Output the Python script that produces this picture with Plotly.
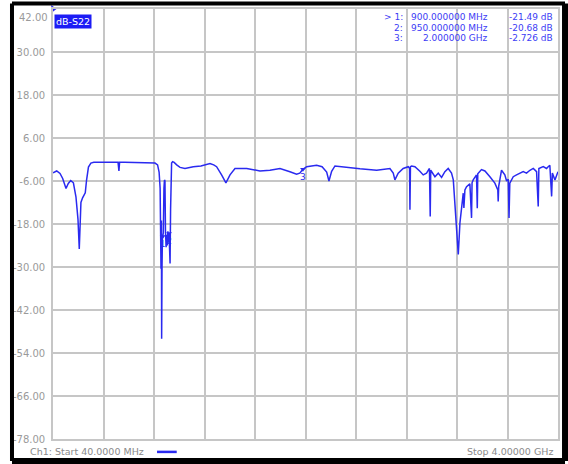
import plotly.graph_objects as go

# ---- data ----
freq_mhz = [40, 69, 95, 116, 142, 160, 179, 200, 220, 236, 246, 252, 259, 272, 293, 303, 318, 337,
            360, 450, 550, 557, 562, 600, 700, 800, 840, 860, 872, 880, 884, 887, 890, 892, 895, 898,
            900, 905, 910, 914, 918, 922, 927, 931, 936, 941, 946, 950, 954, 958, 962, 965, 970,
            978, 990, 1010, 1036, 1075, 1110, 1140, 1200, 1271, 1300, 1323, 1362, 1396, 1428, 1467,
            1559, 1663, 1741, 1820, 1898, 1950, 1975, 2000, 2029, 2107, 2150, 2186, 2204, 2225,
            2251, 2343, 2447, 2578, 2682, 2708, 2721, 2747, 2786, 2826, 2836, 2839, 2843, 2852,
            2878, 2917, 2943, 2969, 2992, 2998, 3002, 3035, 3061, 3087, 3113, 3139, 3152, 3165,
            3179, 3192, 3205, 3218, 3231, 3244, 3257, 3262, 3270, 3283, 3309, 3322, 3326, 3335,
            3361, 3367, 3371, 3400, 3427, 3466, 3505, 3528, 3531, 3535, 3544, 3557, 3583, 3597,
            3610, 3616, 3622, 3649, 3675, 3701, 3727, 3753, 3780, 3806, 3832, 3845, 3850, 3884,
            3910, 3923, 3936, 3950, 3956, 3976, 4000]
s22_db = [-3.7, -3.2, -3.9, -5.3, -8.1, -6.7, -5.9, -6.5, -10.4, -16.7, -25.0, -17.5, -12.0, -10.7,
          -9.3, -5.8, -2.1, -1.0, -0.8, -0.8, -0.8, -3.2, -0.8, -0.8, -0.8, -0.9, -1.0, -1.5, -3.5,
          -8.0, -18.0, -30.5, -17.0, -50.0, -30.0, -22.0, -21.49, -20.5, -8.0, -5.7, -6.0, -20.0,
          -24.5, -21.0, -24.0, -20.0, -23.0, -20.68, -25.0, -29.0, -14.0, -4.0, -1.0, -0.6, -0.8,
          -1.5, -2.2, -2.5, -2.2, -2.0, -1.8, -1.1, -1.5, -2.0, -4.3, -6.5, -4.3, -2.5, -2.5, -3.2,
          -3.0, -2.5, -3.4, -4.1, -3.8, -2.726, -2.0, -1.6, -2.0, -3.5, -6.0, -3.3, -1.8, -2.2,
          -2.6, -3.0, -2.5, -3.8, -5.7, -3.8, -2.5, -2.0, -2.5, -14.0, -2.0, -1.8, -2.0, -3.3,
          -4.3, -3.8, -2.5, -15.9, -3.0, -4.8, -3.8, -5.0, -3.4, -2.5, -3.0, -3.8, -5.7, -12.0,
          -20.5, -26.5, -17.7, -14.0, -9.4, -13.5, -8.5, -7.6, -6.8, -16.3, -6.5, -5.7, -4.3,
          -13.6, -4.0, -2.8, -3.2, -4.8, -6.6, -8.5, -11.7, -7.5, -5.7, -3.0, -4.3, -6.0, -5.5,
          -16.3, -6.6, -4.8, -4.3, -3.8, -3.4, -3.8, -3.0, -2.5, -3.4, -13.1, -2.5, -2.0, -2.5,
          -2.0, -1.6, -10.3, -3.8, -5.7, -3.4]

marker_ids = ["1", "2", "3"]
marker_freq = [900, 950, 2000]
marker_db = [-21.49, -20.68, -2.726]
marker_freq_text = ["900.000000 MHz", "950.000000 MHz", "2.000000 GHz"]
marker_val_text = ["-21.49 dB", "-20.68 dB", "-2.726 dB"]
marker_row_label = ["> 1:", "2:", "3:"]

y_ticks = [42, 30, 18, 6, -6, -18, -30, -42, -54, -66, -78]
y_tick_text = ["42.00", "30.00", "18.00", "6.00", "-6.00", "-18.00", "-30.00", "-42.00",
               "-54.00", "-66.00", "-78.00"]
f_start, f_stop = 40, 4000
x_ticks = [f_start + (f_stop - f_start) * k / 10 for k in range(11)]

trace_label = "dB-S22"
footer_left = "Ch1: Start 40.0000 MHz"
footer_right = "Stop 4.00000 GHz"

BLUE = "#2a2af0"
TBLUE = "#3c3cf5"
GRID = "#c6c6c6"
TXT = "#9a9a9a"
FONT = "DejaVu Sans, Verdana, sans-serif"

fig = go.Figure()
fig.add_trace(go.Scatter(x=freq_mhz, y=s22_db, mode="lines",
                         line=dict(color=BLUE, width=1.5), hoverinfo="skip"))
fig.add_trace(go.Scatter(x=marker_freq, y=marker_db, mode="markers+text",
                         marker=dict(symbol="triangle-down", size=5, color=BLUE),
                         text=marker_ids, textposition="bottom center",
                         textfont=dict(color=BLUE, size=9, family=FONT), hoverinfo="skip"))
# reference level marker
fig.add_trace(go.Scatter(x=[f_start], y=[y_ticks[0]], mode="markers",
                         marker=dict(symbol="triangle-right", size=7, color=BLUE),
                         cliponaxis=False, hoverinfo="skip"))

# top tick label is drawn inside the frame (shifted down), as on the instrument
tick_text_axis = [""] + y_tick_text[1:]

fig.update_layout(
    width=568, height=464,
    margin=dict(l=53, r=10, t=7, b=25),
    paper_bgcolor="white", plot_bgcolor="white",
    showlegend=False,
    font=dict(family=FONT, size=10, color=TXT),
    xaxis=dict(range=[f_start, f_stop], tickvals=x_ticks, showticklabels=False,
               showgrid=True, gridcolor=GRID, gridwidth=1.6, zeroline=False,
               showline=True, linecolor=GRID, linewidth=1.6, mirror=True, ticks=""),
    yaxis=dict(range=[y_ticks[-1], y_ticks[0]], tickvals=y_ticks, ticktext=tick_text_axis,
               showgrid=True, gridcolor=GRID, gridwidth=1.6, zeroline=False,
               showline=True, linecolor=GRID, linewidth=1.6, mirror=True, ticks="",
               tickfont=dict(size=10, color=TXT, family=FONT), ticklabelstandoff=4),
)

fig.add_annotation(xref="paper", yref="y", x=0, y=y_ticks[0], xanchor="right",
                   yanchor="middle", text=y_tick_text[0], showarrow=False,
                   font=dict(size=10, color=TXT, family=FONT), xshift=-3, yshift=-8)

# trace label with blue background
fig.add_annotation(xref="paper", yref="paper", x=0.0, y=1.0, xanchor="left", yanchor="top",
                   text=trace_label, showarrow=False, bgcolor="#1c1cf5", borderpad=1,
                   font=dict(color="white", size=9.5, family=FONT), xshift=1, yshift=-5)

# marker table
row_y = [0.9815, 0.9567, 0.9336]
for i in range(len(marker_ids)):
    fig.add_annotation(xref="paper", yref="paper", x=0.697, y=row_y[i], xanchor="right",
                       yanchor="middle", text=marker_row_label[i], showarrow=False,
                       font=dict(color=TBLUE, size=9, family=FONT))
    fig.add_annotation(xref="paper", yref="paper", x=0.8653, y=row_y[i], xanchor="right",
                       yanchor="middle", text=marker_freq_text[i], showarrow=False,
                       font=dict(color=TBLUE, size=9, family=FONT))
    fig.add_annotation(xref="paper", yref="paper", x=0.994, y=row_y[i], xanchor="right",
                       yanchor="middle", text=marker_val_text[i], showarrow=False,
                       font=dict(color=TBLUE, size=9, family=FONT))

# footer
fig.add_annotation(xref="paper", yref="paper", x=-0.0495, y=-0.030, xanchor="left",
                   yanchor="middle", text=footer_left, showarrow=False,
                   font=dict(color="#8a8a8a", size=9.5, family=FONT))
fig.add_annotation(xref="paper", yref="paper", x=0.994, y=-0.030, xanchor="right",
                   yanchor="middle", text=footer_right, showarrow=False,
                   font=dict(color="#8a8a8a", size=9.5, family=FONT))
fig.add_shape(type="line", xref="paper", yref="paper", x0=0.206, x1=0.245, y0=-0.030,
              y1=-0.030, line=dict(color=BLUE, width=2.5))

# black instrument frame
fig.add_shape(type="line", xref="paper", yref="paper", x0=-0.0812, x1=-0.0812, y0=-0.0509,
              y1=1.0127, line=dict(color="black", width=4))
fig.add_shape(type="line", xref="paper", yref="paper", x0=1.0139, x1=1.0139, y0=-0.0509,
              y1=1.0127, line=dict(color="black", width=6))
fig.add_shape(type="line", xref="paper", yref="paper", x0=-0.0812, x1=1.0139, y0=1.0127,
              y1=1.0127, line=dict(color="black", width=4))
fig.add_shape(type="line", xref="paper", yref="paper", x0=-0.0812, x1=1.0139, y0=-0.0509,
              y1=-0.0509, line=dict(color="black", width=6))

fig.write_html("out.html", config={"displayModeBar": False},
               post_script="document.body.style.margin='0px';")
